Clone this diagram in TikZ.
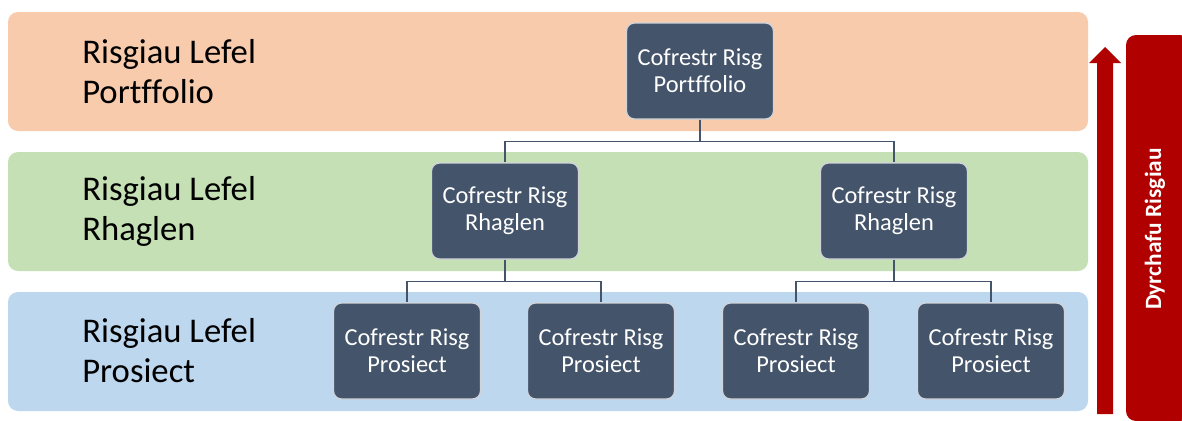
\documentclass[tikz,border=0pt]{standalone}
\usepackage{fontspec}
\setmainfont{Carlito}[Ligatures={NoCommon}]
\begin{document}
\begin{tikzpicture}[x=0.75pt,y=-0.75pt,
  band/.style={rounded corners=7.5pt, draw=none},
  reg/.style={rectangle, rounded corners=6pt, fill=regfill, draw=regedge, line width=1pt,
    minimum width=110.25pt, minimum height=72pt, align=center, text=white,
    font=\fontsize{18.3}{20.5}\selectfont, inner sep=0pt},
  lvl/.style={align=left, anchor=west, inner sep=0pt, font=\fontsize{26}{30}\selectfont, text=black},
  conn/.style={draw=connc, line width=1.1pt}
]
\definecolor{orangeb}{HTML}{F8CBAD}
\definecolor{greenb}{HTML}{C5E0B4}
\definecolor{blueb}{HTML}{BDD7EE}
\definecolor{regfill}{HTML}{44546A}
\definecolor{regedge}{HTML}{D0D4DA}
\definecolor{connc}{HTML}{44546A}
\definecolor{redc}{HTML}{B00000}
\useasboundingbox (0,0) rectangle (1182,421);
\fill[white] (0,0) rectangle (1182,421);
% bands
\fill[band, orangeb] (8,12) rectangle (1088,131);
\fill[band, greenb] (8,152) rectangle (1088,271);
\fill[band, blueb] (8,292) rectangle (1088,411);
% level labels
\node[lvl] (lp) at (82,72) {Risgiau Lefel\\Portffolio};
\node[lvl] (lr) at (82,211) {Risgiau Lefel\\Rhaglen};
\node[lvl] (lj) at (82,351) {Risgiau Lefel\\Prosiect};
% register boxes
\node[reg] (p) at (700,71) {Cofrestr Risg\\Portffolio};
\node[reg] (r1) at (505,211) {Cofrestr Risg\\Rhaglen};
\node[reg] (r2) at (894,211) {Cofrestr Risg\\Rhaglen};
\node[reg] (j1) at (407,351) {Cofrestr Risg\\Prosiect};
\node[reg] (j2) at (601,351) {Cofrestr Risg\\Prosiect};
\node[reg] (j3) at (796,351) {Cofrestr Risg\\Prosiect};
\node[reg] (j4) at (991,351) {Cofrestr Risg\\Prosiect};
% connectors
\draw[conn] (p.south) -- ++(0,22) -| (r1.north);
\draw[conn] (p.south) -- ++(0,22) -| (r2.north);
\draw[conn] (r1.south) -- ++(0,22) -| (j1.north);
\draw[conn] (r1.south) -- ++(0,22) -| (j2.north);
\draw[conn] (r2.south) -- ++(0,22) -| (j3.north);
\draw[conn] (r2.south) -- ++(0,22) -| (j4.north);
% arrow
\fill[redc] (1097,414) -- (1097,63) -- (1089,63) -- (1105,47) -- (1121,63) -- (1113,63) -- (1113,414) -- cycle;
% side bar
\fill[redc, rounded corners=7.5pt] (1126,421) -- (1126,35) -- (1190,35) -- (1190,421) -- cycle;
\node[rotate=90, text=white, font=\bfseries\fontsize{17.5}{20}\selectfont] (dr) at (1155,229) {Dyrchafu Risgiau};
\end{tikzpicture}
\end{document}
